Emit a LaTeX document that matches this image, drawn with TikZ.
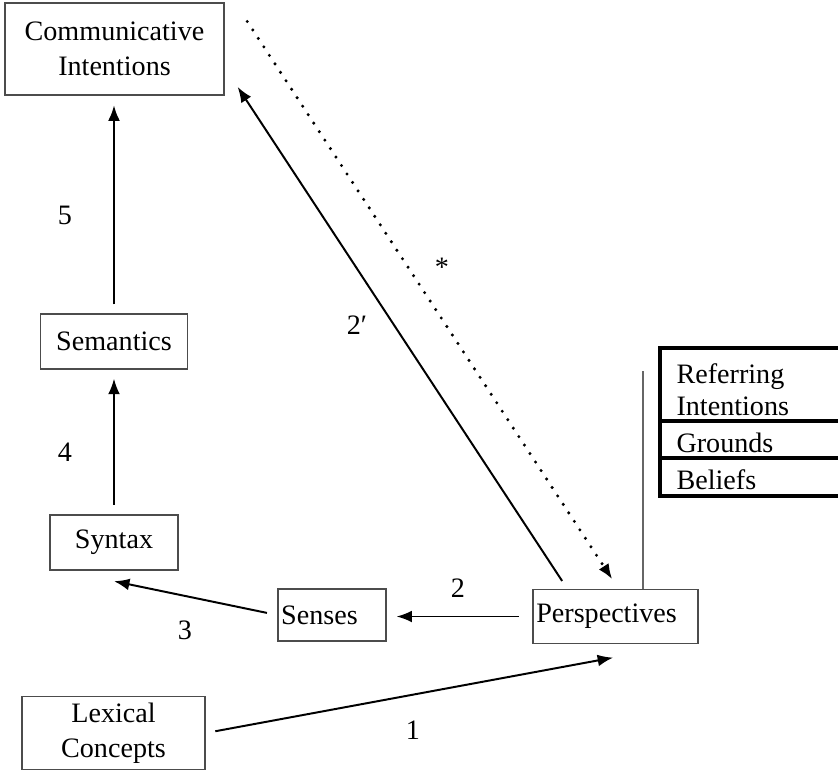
\documentclass[tikz,border=0pt]{standalone}
\usepackage{fontspec}
\setmainfont{Liberation Serif}
\usetikzlibrary{arrows.meta,calc}

\tikzset{
  box/.style={draw=black!70, line width=0.5pt, align=center, inner sep=0pt,
    font=\fontsize{10}{12.4}\selectfont},
  leftbox/.style={box, align=left, inner xsep=1.2pt},
  arr/.style={-{Latex[length=5.5pt,width=4.2pt]}, line width=0.7pt},
  dots/.style={arr, line width=1.2pt, line cap=round, dash pattern=on 0pt off 3.6pt},
  lbl/.style={font=\fontsize{10}{12}\selectfont, inner sep=0pt},
  tab/.style={line width=1.2pt},
}

\begin{document}
\begin{tikzpicture}[x=0.0125cm, y=-0.0125cm]
  \useasboundingbox (0,0) rectangle (838,772);

  % boxes
  \node[box, minimum width=2.74cm, minimum height=1.15cm] (comm) at (114.5,49) {Communicative\\Intentions};
  \node[box, minimum width=1.83cm, minimum height=0.69cm] (sem) at (114,341.5) {Semantics};
  \node[box, minimum width=1.6cm, minimum height=0.69cm] (syn) at (114,542.5) {Syntax};
  \node[leftbox, text width=1.27cm, minimum height=0.65cm] (sen) at (332,615) {Senses};
  \node[leftbox, text width=1.98cm, minimum height=0.67cm] (persp) at (615.5,616.5) {Perspectives};
  \node[box, minimum width=2.29cm, minimum height=0.91cm] (lex) at (113.5,733) {Lexical\\Concepts};

  % table of perspective contents
  \draw[tab] (838,348) -| (660,496) -- (838,496);
  \draw[tab] (660,421) -- (838,421);
  \draw[tab] (660,458) -- (838,458);
  \node[lbl, anchor=base west] (refa) at (676,383) {Referring};
  \node[lbl, anchor=base west] (refb) at (676,415) {Intentions};
  \node[lbl, anchor=base west] (grounds) at (676,452) {Grounds};
  \node[lbl, anchor=base west] (beliefs) at (676,489) {Beliefs};
  \coordinate (vtop) at (643,371);
  \draw[black!60, line width=0.5pt] (vtop) -- (vtop |- persp.north);

  % connectors
  \draw[arr, shorten <=0.11cm, shorten >=0.12cm] (sem.north) -- (sem.north |- comm.south);
  \draw[arr, shorten <=0.12cm, shorten >=0.11cm] (syn.north) -- (syn.north |- sem.south);
  \draw[arr, shorten <=0.13cm] (sen.west) -- ([yshift=-0.13cm]syn.south);
  \draw[arr, shorten <=0.17cm, shorten >=0.12cm] (persp.west) -- (persp.west -| sen.east);
  \draw[arr, shorten <=0.12cm] ([xshift=0.44cm]persp.north west) -- ([xshift=0.16cm,yshift=0.11cm]comm.south east);
  \draw[dots] ([xshift=0.28cm,yshift=-0.24cm]comm.north east) -- ([xshift=-0.04cm,yshift=0.12cm]persp.north);
  \draw[arr, shorten <=0.12cm] (lex.east) -- ([xshift=-0.03cm,yshift=-0.17cm]persp.south);

  % labels
  \node[lbl] (l5) at (65,215) {5};
  \node[lbl] (l4) at (65,452) {4};
  \node[lbl] (l3) at (185,630) {3};
  \node[lbl] (l2) at (458,588) {2};
  \node[lbl] (l2p) at (357,325) {2′};
  \node[lbl] (lstar) at (442,267) {*};
  \node[lbl] (l1) at (413,730) {1};
\end{tikzpicture}
\end{document}
